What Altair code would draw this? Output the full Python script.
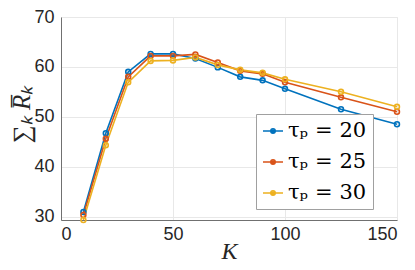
import altair as alt
import pandas as pd

K = [10, 20, 30, 40, 50, 60, 70, 80, 90, 100, 125, 150]
tau20 = [30.9, 46.7, 59.0, 62.6, 62.6, 61.7, 59.9, 58.0, 57.3, 55.6, 51.5, 48.5]
tau25 = [30.3, 45.6, 58.0, 62.2, 62.2, 62.5, 60.9, 59.2, 58.6, 56.9, 53.9, 51.0]
tau30 = [29.3, 44.3, 56.9, 61.2, 61.3, 61.9, 60.4, 59.4, 58.8, 57.5, 55.0, 52.0]
series = ["τₚ\u2004=\u200420", "τₚ\u2004=\u200425", "τₚ\u2004=\u200430"]
colors = ["#0072BD", "#D95319", "#EDB120"]
x_ticks = [0, 50, 100, 150]
y_ticks = [30, 40, 50, 60, 70]

rows = []
for name, vals in zip(series, [tau20, tau25, tau30]):
    for k, v in zip(K, vals):
        rows.append({"K": k, "R": v, "s": name})
df = pd.DataFrame(rows)

W, H = 336, 203
SERIF = "Liberation Serif"

x = alt.X("K:Q", scale=alt.Scale(domain=[0, 150], nice=False),
          axis=alt.Axis(values=x_ticks, title="K", titleFont=SERIF,
                        titleFontStyle="italic", titleFontWeight="normal", titleFontSize=24,
                        titleColor="#262626", titleY=38, titleBaseline="alphabetic",
                        labelPadding=5))
y = alt.Y("R:Q", scale=alt.Scale(domain=[29.3, 70], nice=False, zero=False),
          axis=alt.Axis(values=y_ticks, title="∑ₖ R̅ₖ", titleFont=SERIF,
                        titleFontStyle="italic", titleFontWeight="normal", titleFontSize=25,
                        titleColor="#262626", titleX=-40, titleY=97,
                        titleAlign="center", titleBaseline="middle", labelPadding=7))
legend_path = ("M-1,0H1"
               "M-0.22,0A0.22,0.22,0,1,0,0.22,0A0.22,0.22,0,1,0,-0.22,0"
               "M-0.08,0A0.08,0.08,0,1,0,0.08,0A0.08,0.08,0,1,0,-0.08,0")
color = alt.Color("s:N", scale=alt.Scale(domain=series, range=colors),
                  legend=alt.Legend(title=None, orient="none", legendX=195, legendY=97,
                                    symbolType=legend_path,
                                    symbolSize=400, symbolStrokeWidth=1.6,
                                    labelFont="DejaVu Serif", labelFontSize=21,
                                    labelColor="#000000", labelOffset=4,
                                    rowPadding=10, padding=6,
                                    strokeColor="#a0a0a0", fillColor="white"))

lines = alt.Chart(df).mark_line(strokeWidth=1.6).encode(x=x, y=y, color=color)
pts = alt.Chart(df).mark_point(filled=False, size=24, strokeWidth=1.6, opacity=1).encode(
    x=x, y=y, color=alt.Color("s:N", scale=alt.Scale(domain=series, range=colors)))

chart = alt.layer(lines, pts).properties(
    width=W, height=H,
    autosize=alt.AutoSizeParams(type="none"),
    padding={"left": 53, "top": 9, "right": 10, "bottom": 42},
).configure_view(stroke="#e8e8e8", strokeWidth=1).configure_axis(
    labelFont="Liberation Sans", labelFontSize=18, labelColor="#262626",
    domainColor="#707070", domainWidth=1, ticks=False,
    grid=True, gridColor="#e8e8e8", gridWidth=1,
).configure_legend(symbolFillColor="transparent")

chart.save("out.html", embed_options={"renderer": "svg", "actions": False})
